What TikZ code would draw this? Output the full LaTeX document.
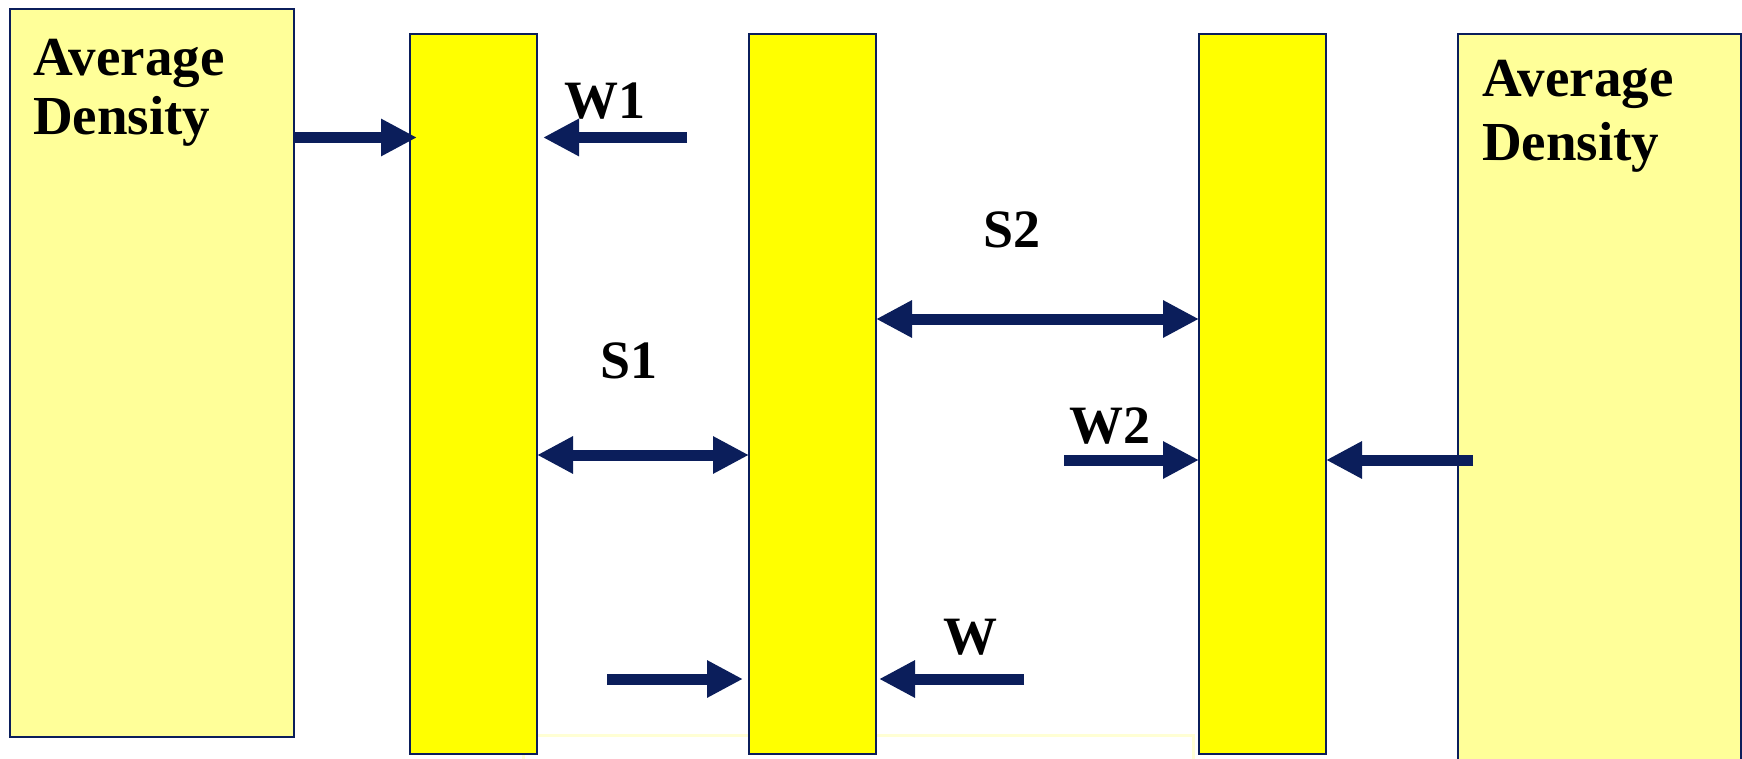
\documentclass[tikz,border=0pt]{standalone}
\usepackage{fontspec}
\setmainfont{Liberation Serif}
\usetikzlibrary{arrows.meta}
\definecolor{navy}{RGB}{11,30,91}
\definecolor{paleyellow}{RGB}{255,255,153}
\definecolor{brightyellow}{RGB}{255,255,0}
\definecolor{faintline}{RGB}{255,255,212}
\tikzset{
  region/.style={draw=navy, line width=2.5pt, fill=paleyellow, inner sep=0pt, outer sep=0pt, anchor=north west},
  layer/.style={draw=navy, line width=2.5pt, fill=brightyellow, inner sep=0pt, outer sep=0pt, anchor=north west, minimum width=127pt, minimum height=720pt},
  flow/.style={navy, line width=11pt, -{Triangle[length=36pt,width=35pt]}},
  dflow/.style={navy, line width=11pt, {Triangle[length=36pt,width=35pt]}-{Triangle[length=36pt,width=35pt]}},
  title/.style={font=\bfseries\fontsize{55}{62}\selectfont, inner sep=0pt, anchor=base west},
  lab/.style={font=\bfseries\fontsize{54}{60}\selectfont, inner sep=0pt, anchor=base}
}
\begin{document}
\begin{tikzpicture}[x=1pt, y=-1pt]
\useasboundingbox (0,0) rectangle (1742,759);

% faint outline running underneath the layers
\draw[faintline, line width=3pt] (523,800) -- (523,735) -- (1193,735) -- (1193,800);

% outer regions of average density
\node[region, minimum width=284pt, minimum height=728pt] (lreg) at (10,9) {};
\node[region, minimum width=283pt, minimum height=780pt] (rreg) at (1458,34) {};

% the three layers
\node[layer] (b1) at (410,34) {};
\node[layer] (b2) at (749,34) {};
\node[layer] (b3) at (1199,34) {};

% region labels
\node[title] (lt1) at (33,76) {Average};
\node[title] (lt2) at (33,135) {Density};
\node[title] (rt1) at (1482,97) {Average};
\node[title] (rt2) at (1482,161) {Density};

% height levels of the arrows
\coordinate (yA) at (0,137.5);
\coordinate (yS2) at (0,319);
\coordinate (yS1) at (0,455);
\coordinate (yW2) at (0,460);
\coordinate (yW) at (0,679);
\coordinate (w1tail) at (687,137.5);
\coordinate (w2tail) at (1064,460);
\coordinate (ltail) at (607,679);
\coordinate (wtail) at (1024,679);
\coordinate (rtail) at (1473,460);

% arrows
\draw[flow] (lreg.east |- yA) -- ([xshift=7pt]b1.west |- yA);
\draw[flow] (w1tail) -- ([xshift=6pt]b1.east |- yA);
\draw[dflow] (b2.east |- yS2) -- (b3.west |- yS2);
\draw[dflow] (b1.east |- yS1) -- (b2.west |- yS1);
\draw[flow] (w2tail) -- (b3.west |- yW2);
\draw[flow] (rtail) -- (b3.east |- yW2);
\draw[flow] (ltail) -- ([xshift=-6pt]b2.west |- yW);
\draw[flow] (wtail) -- ([xshift=3pt]b2.east |- yW);

% arrow labels
\node[lab] (lw1) at (605,119) {W1};
\node[lab] (ls2) at (1012,248) {S2};
\node[lab] (ls1) at (629,378) {S1};
\node[lab] (lw2) at (1110,443) {W2};
\node[lab] (lw) at (970,654) {W};
\end{tikzpicture}
\end{document}
